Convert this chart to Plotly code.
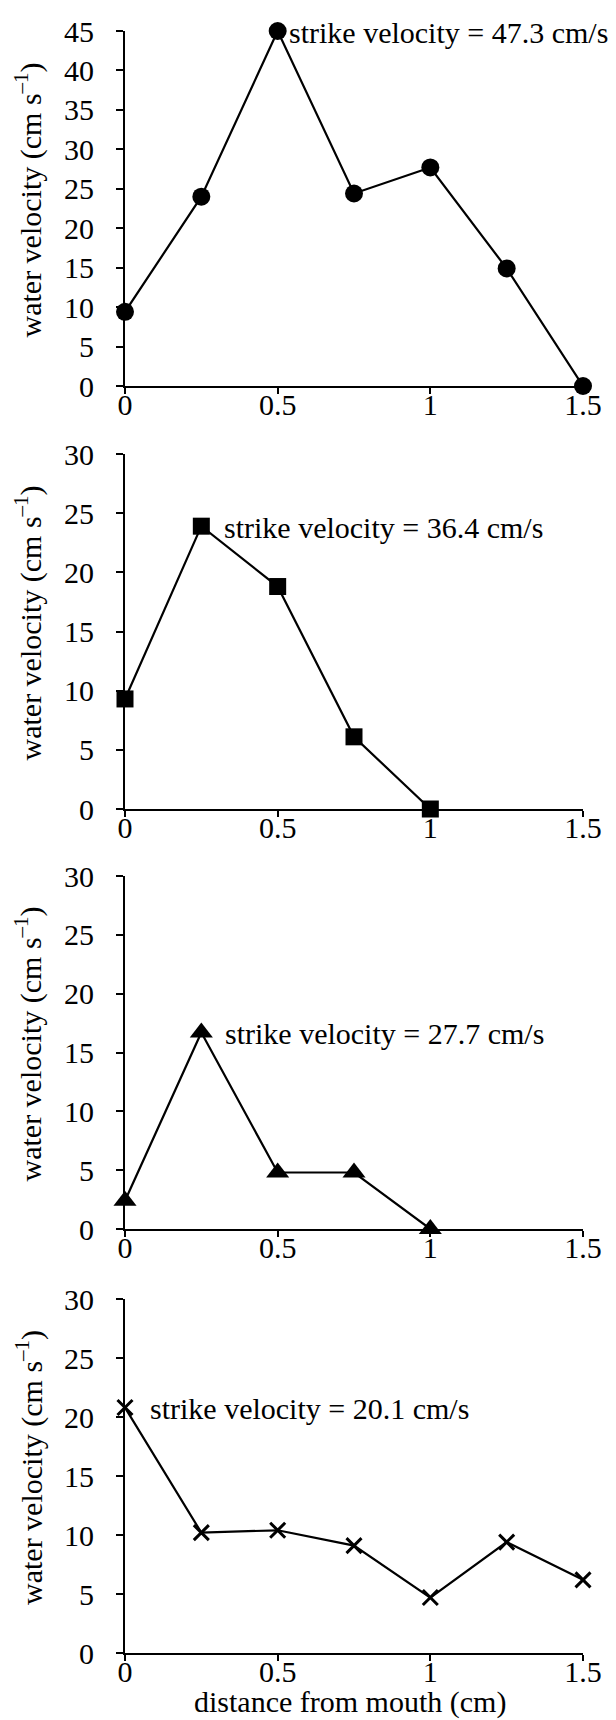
import plotly.graph_objects as go

# ---- data ----
distance = [0, 0.25, 0.5, 0.75, 1.0, 1.25, 1.5]
vel_circle = [9.4, 24.0, 45.0, 24.4, 27.7, 14.9, 0.0]
dist_short = [0, 0.25, 0.5, 0.75, 1.0]
vel_square = [9.3, 23.9, 18.8, 6.1, 0.0]
vel_triangle = [2.4, 16.7, 4.8, 4.8, 0.0]
vel_cross = [20.8, 10.2, 10.4, 9.1, 4.7, 9.4, 6.2]
strike_labels = ["strike velocity = 47.3 cm/s", "strike velocity = 36.4 cm/s",
                 "strike velocity = 27.7 cm/s", "strike velocity = 20.1 cm/s"]
y_max = [45, 30, 30, 30]
x_ticks = [0, 0.5, 1, 1.5]

W, H = 616, 1720
FONT = "Liberation Serif"
FS = 30

panels = [
    (distance, vel_circle, "circle", 18, 9),
    (dist_short, vel_square, "square", 17, 21),
    (dist_short, vel_triangle, "triangle-up", 20, 22),
    (distance, vel_cross, "x-thin", 15, 23),
]
# pixel positions (top, bottom) of each plot area
px_rows = [(23, 378), (446, 801), (868, 1221), (1291, 1645)]
x_left, x_right = 117, 575

fig = go.Figure()
annotations = []
for i, ((xs, ys, sym, msize, xshift), (top, bot)) in enumerate(zip(panels, px_rows)):
    n = "" if i == 0 else str(i + 1)
    fig.add_trace(go.Scatter(
        x=xs, y=ys, mode="lines+markers",
        xaxis="x" + n, yaxis="y" + n,
        line=dict(color="black", width=2.2),
        marker=dict(symbol=sym, size=msize, color="black",
                    line=dict(color="black", width=3 if sym == "x-thin" else 0)),
        cliponaxis=False, showlegend=False,
    ))
    ydom = [1 - bot / H, 1 - top / H]
    common = dict(showline=True, linecolor="black", linewidth=2, ticks="outside",
                  tickcolor="black", tickwidth=2, showgrid=False, zeroline=False,
                  tickfont=dict(family=FONT, size=FS, color="black"), automargin=False)
    fig.update_layout(**{
        "xaxis" + n: dict(domain=[x_left / W, x_right / W], range=[0, 1.5],
                          tickvals=x_ticks, ticklen=6, anchor="y" + n,
                          ticklabelstandoff=-15, **common),
        "yaxis" + n: dict(domain=ydom, range=[0, y_max[i]], dtick=5, ticklen=7,
                          anchor="x" + n, ticklabelstandoff=16, **common),
    })
    k = max(range(len(ys)), key=lambda j: ys[j])
    annotations.append(dict(x=xs[k], y=ys[k], xref="x" + n, yref="y" + n,
                            text=strike_labels[i], showarrow=False, xanchor="left",
                            yanchor="middle", xshift=xshift, yshift=-1,
                            font=dict(family=FONT, size=FS, color="black")))
    annotations.append(dict(x=21 / W, y=1 - ((top + bot) / 2 - 8) / H, xref="paper", yref="paper",
                            text="water velocity (cm s<sup>–1</sup>)", textangle=-90,
                            showarrow=False, xanchor="center", yanchor="middle",
                            font=dict(family=FONT, size=FS, color="black")))

annotations.append(dict(x=342 / W, y=1 - 1694 / H, xref="paper", yref="paper",
                        text="distance from mouth (cm)", showarrow=False,
                        xanchor="center", yanchor="middle",
                        font=dict(family=FONT, size=FS, color="black")))

fig.update_layout(width=W, height=H, margin=dict(l=0, r=0, t=0, b=0),
                  paper_bgcolor="white", plot_bgcolor="white",
                  annotations=annotations, font=dict(family=FONT, color="black"))
fig.write_html("out.html")
